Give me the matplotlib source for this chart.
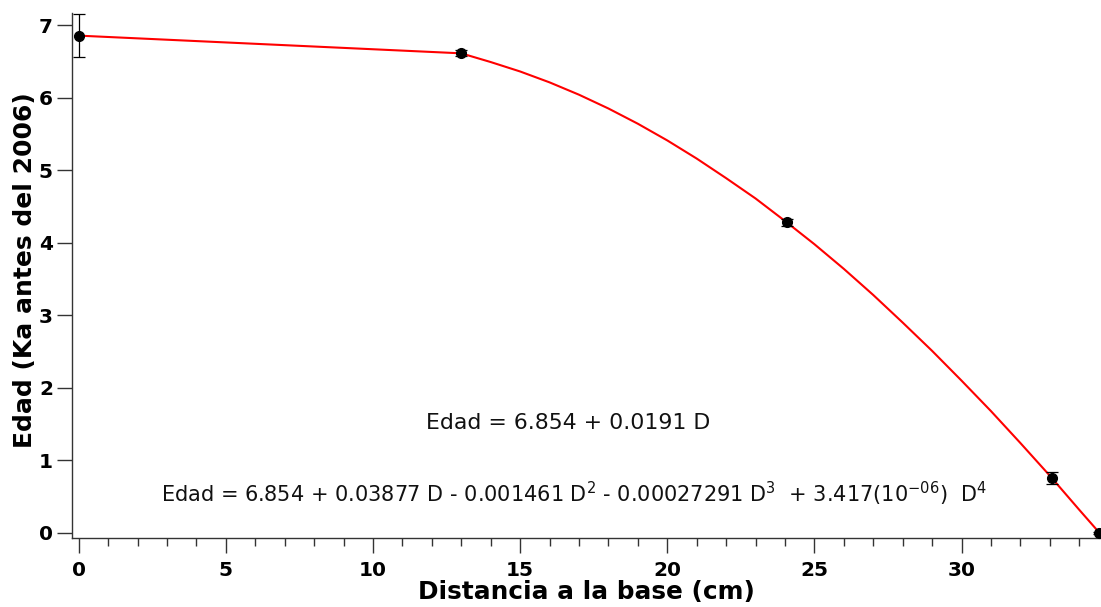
import matplotlib
matplotlib.use("Agg")
import matplotlib.pyplot as plt
from matplotlib.ticker import MultipleLocator

# measured points
dist = [0.0, 13.0, 24.06, 33.06, 34.67]
edad = [6.854, 6.62, 4.28, 0.76, 0.0]
err = [0.30, 0.04, 0.05, 0.085, 0.02]

# fitted curve
curve_x = [0.0, 13.0, 14, 15, 16, 17, 18, 19, 20, 21, 22, 23, 24, 25, 26,
           27, 28, 29, 30, 31, 32, 33, 34, 34.67]
curve_y = [6.854, 6.61, 6.49, 6.36, 6.21, 6.04, 5.85, 5.64, 5.41, 5.16, 4.89,
           4.61, 4.30, 3.98, 3.64, 3.28, 2.90, 2.51, 2.10, 1.68, 1.24, 0.79,
           0.32, 0.01]

eq1 = "Edad = 6.854 + 0.0191 D"
eq2 = (r"Edad = 6.854 + 0.03877 D - 0.001461 D$^{2}$ - 0.00027291 D$^{3}$  "
       r"+ 3.417(10$^{-06}$)  D$^{4}$")

plt.rcParams['font.family'] = ['DejaVu Sans']
plt.rcParams['mathtext.default'] = 'regular'

fig = plt.figure(figsize=(11.01, 6.07), dpi=100)
ax = fig.add_axes([0.0657, 0.1132, 1 - 0.0657, 0.9786 - 0.1132])

ax.plot(curve_x, curve_y, color='red', lw=1.5, zorder=2)
ax.errorbar(dist, edad, yerr=err, fmt='o', color='black', ms=7,
            ecolor='black', elinewidth=0.9, capsize=4.2, capthick=0.9,
            zorder=3, clip_on=False)

ax.set_xlim(-0.217, 34.74)
ax.set_ylim(-0.073, 7.166)

for s in ['top', 'right']:
    ax.spines[s].set_visible(False)
for s in ['left', 'bottom']:
    ax.spines[s].set_linewidth(1.0)
    ax.spines[s].set_color('#333333')

ax.xaxis.set_major_locator(MultipleLocator(5))
ax.xaxis.set_minor_locator(MultipleLocator(1))
ax.yaxis.set_major_locator(MultipleLocator(1))
ax.tick_params(axis='both', which='major', direction='out', length=11,
               width=1.0, color='#333333', labelsize=14.5)
ax.tick_params(axis='x', which='minor', direction='out', length=5.5,
               width=1.0, color='#333333')
ax.tick_params(axis='x', which='major', pad=5)
ax.tick_params(axis='y', which='major', pad=3)
for lab in ax.get_xticklabels() + ax.get_yticklabels():
    lab.set_fontweight('bold')

ax.set_xlabel("Distancia a la base (cm)", fontsize=17.8, fontweight='bold',
              labelpad=0)
ax.set_ylabel("Edad (Ka antes del 2006)", fontsize=18, fontweight='bold')
ax.yaxis.set_label_coords(-0.0345, 0.511)

ax.text(16.64, 1.433, eq1, ha='center', va='baseline', fontsize=15.8,
        color='#111111')
ax.text(16.83, 0.427, eq2, ha='center', va='baseline', fontsize=15,
        color='#111111')

fig.savefig("out.png", dpi=100)
